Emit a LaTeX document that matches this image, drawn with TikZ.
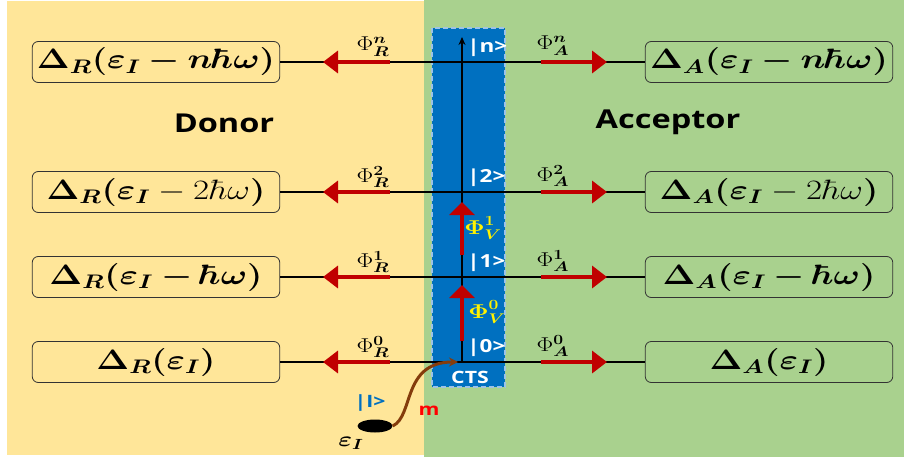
\RequirePackage{fix-cm}
\documentclass[tikz,border=0pt]{standalone}
\usepackage{amsmath}
\usepackage{bm}
\usepackage{fontspec}
\setsansfont{Open Sans}
\usetikzlibrary{arrows.meta, shapes.geometric, positioning}
\definecolor{donorbg}{RGB}{255,230,153}
\definecolor{accbg}{RGB}{169,209,142}
\definecolor{ctsblue}{RGB}{0,112,192}
\definecolor{ctsedge}{RGB}{157,195,230}
\definecolor{flowred}{RGB}{192,0,0}
\definecolor{hopbrown}{RGB}{132,60,12}
\tikzstyle{wide}=[xscale=1.25]
\tikzstyle{lvl}=[wide,draw=black!80,line width=0.8pt,rounded corners=6pt,minimum width=198pt,minimum height=41pt,inner sep=0pt,font=\fontsize{28}{30}\selectfont]
\tikzstyle{flow}=[flowred,line width=3.5pt,-{Triangle[length=15pt,width=22pt]}]
\tikzstyle{hop}=[flowred,line width=4.5pt,-{Triangle[length=13pt,width=25pt]}]
\tikzstyle{rate}=[wide,inner sep=1pt,font=\fontsize{20}{21}\selectfont]
\tikzstyle{ket}=[wide,inner sep=0pt,anchor=west,text=white,font=\sffamily\bfseries\fontsize{18}{19}\selectfont]
\tikzstyle{side}=[wide,font=\sffamily\bfseries\fontsize{26}{28}\selectfont]

\begin{document}
\begin{tikzpicture}[x=1pt,y=-1pt]
  \useasboundingbox (0,0) rectangle (904,457);
  \fill[donorbg] (7,1) rectangle (424,455);
  \fill[accbg] (424,0) rectangle (904,457);
  \fill[ctsblue] (432,28) rectangle (505,387);
  \draw[ctsedge,line width=1.5pt,dash pattern=on 5pt off 3pt] (432,28) rectangle (505,387);
  \node[side] (donor) at (224,123) {Donor};
  \node[side] (acceptor) at (668,122) {Acceptor};
  \coordinate (top) at (462,37);
  \foreach \k/\y/\tx in {n/62/{\bm{\varepsilon_I - n\hbar\omega}}, 2/192/{\bm{\varepsilon_I} - 2\hbar\omega}, 1/277/{\bm{\varepsilon_I - \hbar\omega}}, 0/362/{\bm{\varepsilon_I}}} {
    \coordinate (c\k) at (462,\y);
    \node[lvl] (L\k) at (156,\y) {$\bm{\Delta_R(}\tx\bm{)}$};
    \node[lvl] (R\k) at (769,\y) {$\bm{\Delta_A(}\tx\bm{)}$};
    \draw[line width=2pt] (L\k.east) -- (R\k.west);
    \draw[flow] ([xshift=-72pt]c\k) -- ([xshift=-139pt]c\k);
    \draw[flow] ([xshift=79pt]c\k) -- ([xshift=145pt]c\k);
    \node[rate] (phiR\k) at ([xshift=-89pt,yshift=15pt]c\k) {$\Phi^{\bm{\k}}_{\bm{R}}$};
    \node[rate] (phiA\k) at ([xshift=91pt,yshift=16pt]c\k) {$\Phi^{\bm{\k}}_{\bm{A}}$};
    \node[ket] (ket\k) at ([xshift=5pt,yshift=14pt]c\k) {|\k>};
  }
  \draw[line width=2pt,-{Stealth[length=8pt,width=7pt]}] (c0) -- (top);
  % vibrational steps
  \draw[hop] ([yshift=21pt]c0) -- ([yshift=77pt]c0);
  \draw[hop] ([yshift=22pt]c1) -- ([yshift=75pt]c1);
  \node[rate,text=yellow] (phiV0) at (487,312) {$\bm{\Phi^0_V}$};
  \node[rate,text=yellow] (phiV1) at (483,228) {$\bm{\Phi^1_V}$};
  \node[wide,text=white,font=\sffamily\bfseries\fontsize{17}{18}\selectfont] (cts) at (470,377) {CTS};
  % initial state
  \node[ellipse,fill=black,minimum width=35pt,minimum height=13pt,inner sep=0pt] (src) at (375,426) {};
  \node[wide,text=ctsblue,font=\sffamily\bfseries\fontsize{17}{18}\selectfont] (ini) at (370,403) {|I>};
  \node[wide,text=red,font=\sffamily\bfseries\fontsize{17}{18}\selectfont] (mlab) at (429,411) {m};
  \node[wide,font=\fontsize{21}{22}\selectfont] (eps) at (351,443) {$\bm{\varepsilon_I}$};
  \draw[hopbrown,line width=3pt,-{Stealth[length=9pt,width=9pt]}] (src.east) .. controls (414,416) and (402,362) .. ([xshift=-4pt]c0);
\end{tikzpicture}
\end{document}
